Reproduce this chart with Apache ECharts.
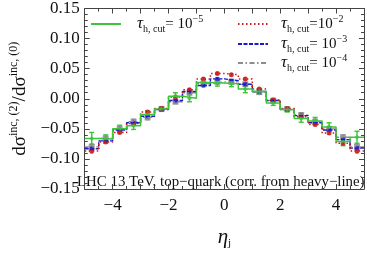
<!DOCTYPE html>
<html><head><meta charset="utf-8">
<script src="https://cdn.jsdelivr.net/npm/echarts@6/dist/echarts.min.js"></script>
<style>html,body{margin:0;padding:0;background:#fff}#c{width:367px;height:254px}</style>
</head><body><div id="c"></div>
<script>
const etaCenters = [-4.75,-4.25,-3.75,-3.25,-2.75,-2.25,-1.75,-1.25,-0.75,-0.25,0.25,0.75,1.25,1.75,2.25,2.75,3.25,3.75,4.25,4.75];
const green    = [-0.066,-0.067,-0.050,-0.045,-0.026,-0.017,0.004,0.001,0.027,0.026,0.025,0.016,0.012,-0.007,-0.018,-0.033,-0.037,-0.047,-0.071,-0.064];
const greenErr = [0.010,0.007,0.006,0.006,0.006,0.004,0.006,0.006,0.005,0.005,0.005,0.006,0.004,0.004,0.004,0.006,0.006,0.007,0.007,0.010];
const red      = [-0.087,-0.072,-0.056,-0.041,-0.022,-0.016,0.003,0.015,0.033,0.042,0.040,0.033,0.016,-0.002,-0.016,-0.030,-0.043,-0.057,-0.074,-0.087];
const redErr   = [0.003,0.002,0.002,0.002,0.002,0.002,0.002,0.002,0.002,0.002,0.002,0.002,0.002,0.002,0.002,0.002,0.002,0.002,0.002,0.003];
const blue     = [-0.083,-0.070,-0.052,-0.040,-0.029,-0.018,-0.003,0.012,0.022,0.033,0.030,0.024,0.012,-0.003,-0.018,-0.028,-0.040,-0.052,-0.068,-0.082];
const blueErr  = [0.003,0.002,0.002,0.002,0.002,0.002,0.002,0.002,0.002,0.002,0.002,0.002,0.002,0.002,0.002,0.002,0.002,0.002,0.002,0.003];
const gray     = [-0.080,-0.066,-0.050,-0.038,-0.031,-0.017,-0.005,0.010,0.025,0.028,0.028,0.024,0.011,-0.003,-0.017,-0.027,-0.038,-0.050,-0.064,-0.080];
const grayErr  = [0.005,0.004,0.004,0.004,0.004,0.003,0.003,0.003,0.003,0.003,0.003,0.003,0.003,0.003,0.003,0.004,0.004,0.004,0.004,0.005];
const seriesNames = ['t5','t2','t3','t4'];
const legendExp = {t5:'−5', t2:'−2', t3:'−3', t4:'−4'};
const legendEq = {t5:'= 10', t2:'=10', t3:'= 10', t4:'= 10'};
const annotation = 'LHC 13 TeV, top−quark (corr. from heavy−line)';

const FONT = 'Liberation Serif';
const C = {green:'#3cc43c', red:'#cc1a1a', blue:'#1a1acc', gray:'#8c8c8c'};

function stepData(vals){
  const pts = etaCenters.map((c,i)=>[c-0.25, vals[i]]);
  const n = etaCenters.length-1;
  pts.push([etaCenters[n]+0.25, vals[n]]);
  return pts;
}
function errSeries(vals, errs, color, lw, cap){
  return {type:'custom', silent:true, clip:false,
    renderItem:(params, api)=>{
      const x=api.value(0), y=api.value(1), e=api.value(2);
      const p1=api.coord([x,y-e]), p2=api.coord([x,y+e]);
      return {type:'group', children:[
        {type:'line', shape:{x1:p1[0],y1:p1[1],x2:p2[0],y2:p2[1]}, style:{stroke:color, lineWidth:lw}},
        {type:'line', shape:{x1:p1[0]-cap,y1:p1[1],x2:p1[0]+cap,y2:p1[1]}, style:{stroke:color, lineWidth:lw}},
        {type:'line', shape:{x1:p2[0]-cap,y1:p2[1],x2:p2[0]+cap,y2:p2[1]}, style:{stroke:color, lineWidth:lw}}
      ]};
    },
    data: etaCenters.map((c,i)=>[c, vals[i], errs[i]])};
}
function pts(vals, color, symbol, size){
  return {type:'scatter', silent:true, symbol, symbolSize:size, itemStyle:{color},
    data: etaCenters.map((c,i)=>[c, vals[i]])};
}
function stepLine(name, vals, color, type, lw){
  return {type:'line', name, step:'end', symbol:'none', silent:true,
    lineStyle:{color, type, width:lw}, itemStyle:{color},
    data: stepData(vals)};
}
const rich = {
  t:{fontFamily:FONT, fontSize:17, fontStyle:'italic', color:'#111'},
  sb:{fontFamily:FONT, fontSize:10, color:'#111', verticalAlign:'bottom', lineHeight:10},
  m:{fontFamily:FONT, fontSize:15, color:'#111', lineHeight:20},
  sp:{fontFamily:FONT, fontSize:10, color:'#111', verticalAlign:'top', lineHeight:10}
};
function legendText(name){
  return '{t|τ}{sb|h, cut}{m|' + legendEq[name] + '}{sp|' + legendExp[name] + '}';
}
function legend(name, left, top, pad){
  return {data:[name], left, top, itemWidth:30, itemHeight:10, itemGap:0,
    selectedMode:false, itemStyle:{opacity:0},
    formatter: n=>legendText(n), textStyle:{rich, padding:[0,0,0,pad]}};
}
const fmtNum = v => (v<0?'−':'') + Math.abs(v).toFixed(2);
const axisCommon = {
  axisLine:{show:true, onZero:false, lineStyle:{color:'#444', width:1}},
  axisTick:{show:true, inside:true, length:5, lineStyle:{color:'#444'}},
  splitLine:{show:false}
};
const option = {
  animation:false,
  grid:{left:76, right:2, top:7, bottom:52, containLabel:false},
  xAxis:[
    Object.assign({type:'value', min:-5, max:5, interval:1, position:'bottom',
      axisLabel:{fontFamily:FONT, fontSize:17, color:'#111', margin:8,
        formatter:v=> (Math.abs(v)%2===0) ? (v<0?'−':'')+Math.abs(v) : ''},
      name:'{e|η}{j|j}', nameLocation:'middle', nameGap:36,
      nameTextStyle:{rich:{e:{fontFamily:FONT, fontSize:21, fontStyle:'italic', color:'#111', lineHeight:24},
                           j:{fontFamily:FONT, fontSize:11, color:'#111', verticalAlign:'bottom', lineHeight:10}}}
    }, axisCommon, {minorTick:{show:true, splitNumber:2, length:3, lineStyle:{color:'#444'}}}),
    Object.assign({type:'value', min:-5, max:5, interval:1, position:'top', axisLabel:{show:false}},
      axisCommon, {minorTick:{show:true, splitNumber:2, length:3, lineStyle:{color:'#444'}}})
  ],
  yAxis:[
    Object.assign({type:'value', min:-0.15, max:0.15, interval:0.05, position:'left',
      axisLabel:{fontFamily:FONT, fontSize:17, color:'#111', margin:5, formatter:fmtNum},
      name:'{m|dσ}{s|inc, (2)}{m|/dσ}{s|inc, (0)}', nameLocation:'middle', nameRotate:90, nameGap:52,
      nameTextStyle:{rich:{m:{fontFamily:FONT, fontSize:19, color:'#111', lineHeight:24},
                           s:{fontFamily:FONT, fontSize:12, color:'#111', verticalAlign:'top', lineHeight:12}}}
    }, axisCommon, {minorTick:{show:true, splitNumber:5, length:3, lineStyle:{color:'#444'}}}),
    Object.assign({type:'value', min:-0.15, max:0.15, interval:0.05, position:'right', axisLabel:{show:false}},
      axisCommon, {minorTick:{show:true, splitNumber:5, length:3, lineStyle:{color:'#444'}}})
  ],
  legend:[
    legend('t5', 85, 9, 11),
    legend('t2', 232, 9, 8),
    legend('t3', 232, 29, 8),
    legend('t4', 232, 48, 8)
  ],
  graphic:[{type:'text', left:77, top:175, silent:true,
    style:{text:annotation, fontFamily:FONT, fontSize:14.9, fill:'#111'}}],
  series:[
    stepLine('t4', gray, C.gray, [5,2.5,1.5,2.5], 1.3),
    errSeries(gray, grayErr, C.gray, 1.2, 2),
    pts(gray, C.gray, 'rect', 6),
    stepLine('t3', blue, C.blue, [4,1.5], 1.4),
    errSeries(blue, blueErr, C.blue, 1, 1.5),
    pts(blue, C.blue, 'rect', 4),
    stepLine('t2', red, C.red, [1.5,2.5], 1.5),
    errSeries(red, redErr, C.red, 1, 1.5),
    pts(red, C.red, 'circle', 5),
    stepLine('t5', green, C.green, 'solid', 1.5),
    errSeries(green, greenErr, C.green, 1.4, 2.5),
    pts(green, C.green, 'diamond', 5)
  ]
};
const chart = echarts.init(document.getElementById('c'), null, {renderer:'canvas'});
chart.setOption(option);
</script></body></html>
